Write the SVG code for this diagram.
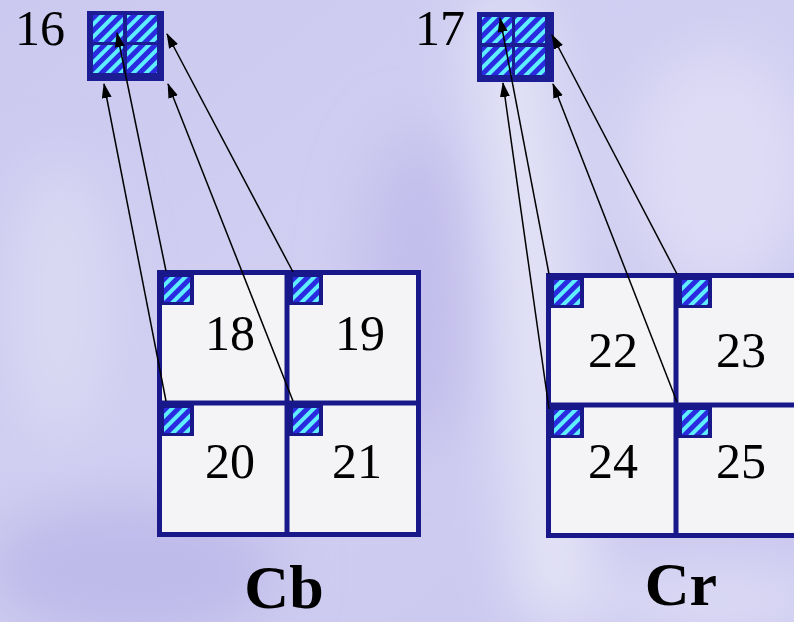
<svg xmlns="http://www.w3.org/2000/svg" width="794" height="622" viewBox="0 0 794 622">
<defs>
  <linearGradient id="bg" x1="0" y1="0" x2="1" y2="1">
    <stop offset="0" stop-color="#cbc9ef"/>
    <stop offset="0.5" stop-color="#d1cff1"/>
    <stop offset="1" stop-color="#c8c5ee"/>
  </linearGradient>
  <filter id="blur" x="-50%" y="-50%" width="200%" height="200%"><feGaussianBlur stdDeviation="30"/></filter>
  <pattern id="hatch" width="9" height="9" patternUnits="userSpaceOnUse" patternTransform="rotate(-45)">
    <rect width="9" height="9" fill="#2a2ae0"/>
    <rect width="9" height="4" fill="#5eeeff"/>
  </pattern>
  <marker id="arr" markerWidth="15" markerHeight="11" refX="14" refY="5" orient="auto" markerUnits="userSpaceOnUse">
    <path d="M0,0 L15,5 L0,10 z" fill="#000"/>
  </marker>
  <g id="sq">
    <rect x="0" y="0" width="34" height="31" fill="#18188a"/>
    <rect x="4" y="3" width="26" height="25" fill="url(#hatch)"/>
  </g>
</defs>
<style>
  .num{font-family:"Liberation Serif","Times New Roman",serif;font-size:50px;fill:#000;text-anchor:middle}
  .lab{font-family:"Liberation Serif","Times New Roman",serif;font-size:62px;font-weight:bold;fill:#000;text-anchor:middle}
  .box{fill:#f4f4f6;stroke:#18188a;stroke-width:5}
  .div{stroke:#18188a;stroke-width:5}
  .con{stroke:#000;stroke-width:1.5;fill:none;marker-end:url(#arr)}
</style>
<!-- background -->
<rect width="794" height="622" fill="url(#bg)"/>
<g filter="url(#blur)">
  <ellipse cx="130" cy="570" rx="150" ry="70" fill="#bebaea"/>
  <ellipse cx="420" cy="290" rx="60" ry="160" fill="#c2beec"/>
  <path d="M470,0 L540,0 L600,622 L520,622 Z" fill="#e4e4f7"/>
  <ellipse cx="720" cy="170" rx="90" ry="120" fill="#dedcf5"/>
  <ellipse cx="60" cy="300" rx="50" ry="140" fill="#dad9f3"/>
  <ellipse cx="720" cy="600" rx="120" ry="40" fill="#dcdaf4"/>
</g>

<!-- top grid 16 -->
<g id="grid16">
  <rect x="87" y="11" width="77" height="70" fill="#1c1c94"/>
  <rect x="93" y="15" width="30" height="27" fill="url(#hatch)"/>
  <rect x="127" y="15" width="30" height="27" fill="url(#hatch)"/>
  <rect x="93" y="45" width="30" height="28" fill="url(#hatch)"/>
  <rect x="127" y="45" width="30" height="28" fill="url(#hatch)"/>
  <text class="num" x="40" y="45">16</text>
</g>
<!-- top grid 17 -->
<g id="grid17">
  <rect x="477" y="12" width="77" height="70" fill="#1c1c94"/>
  <rect x="482" y="17" width="30" height="26" fill="url(#hatch)"/>
  <rect x="515" y="17" width="30" height="26" fill="url(#hatch)"/>
  <rect x="482" y="47" width="30" height="28" fill="url(#hatch)"/>
  <rect x="515" y="47" width="30" height="28" fill="url(#hatch)"/>
  <text class="num" x="440" y="45">17</text>
</g>

<!-- Cb block -->
<g id="cb">
  <rect class="box" x="159.5" y="272.5" width="259" height="262"/>
  <line class="div" x1="287" y1="272" x2="287" y2="535"/>
  <line class="div" x1="159" y1="403" x2="419" y2="403"/>
  <use href="#sq" x="160" y="274"/>
  <use href="#sq" x="289" y="274"/>
  <use href="#sq" x="160" y="405"/>
  <use href="#sq" x="289" y="405"/>
  <text class="num" x="230" y="350">18</text>
  <text class="num" x="360" y="350">19</text>
  <text class="num" x="230" y="478">20</text>
  <text class="num" x="357" y="478">21</text>
  <text class="lab" x="284" y="608">Cb</text>
</g>

<!-- Cr block -->
<g id="cr">
  <rect class="box" x="548.5" y="275.5" width="300" height="260"/>
  <line class="div" x1="676" y1="275" x2="676" y2="536"/>
  <line class="div" x1="548" y1="405" x2="800" y2="405"/>
  <use href="#sq" x="550" y="277"/>
  <use href="#sq" x="678" y="277"/>
  <use href="#sq" x="550" y="407"/>
  <use href="#sq" x="678" y="407"/>
  <text class="num" x="613" y="367">22</text>
  <text class="num" x="741" y="367">23</text>
  <text class="num" x="613" y="478">24</text>
  <text class="num" x="741" y="478">25</text>
  <text class="lab" x="681" y="605">Cr</text>
</g>

<!-- connectors -->
<g id="connectors">
  <line class="con" x1="166" y1="401" x2="104" y2="84"/>
  <line class="con" x1="166" y1="271" x2="117" y2="33"/>
  <line class="con" x1="293" y1="401" x2="168" y2="84"/>
  <line class="con" x1="293" y1="272" x2="167" y2="34"/>
  <line class="con" x1="549" y1="409" x2="503" y2="83"/>
  <line class="con" x1="549" y1="274" x2="500" y2="18"/>
  <line class="con" x1="677" y1="402" x2="553" y2="84"/>
  <line class="con" x1="677" y1="274" x2="552" y2="35"/>
</g>
</svg>
